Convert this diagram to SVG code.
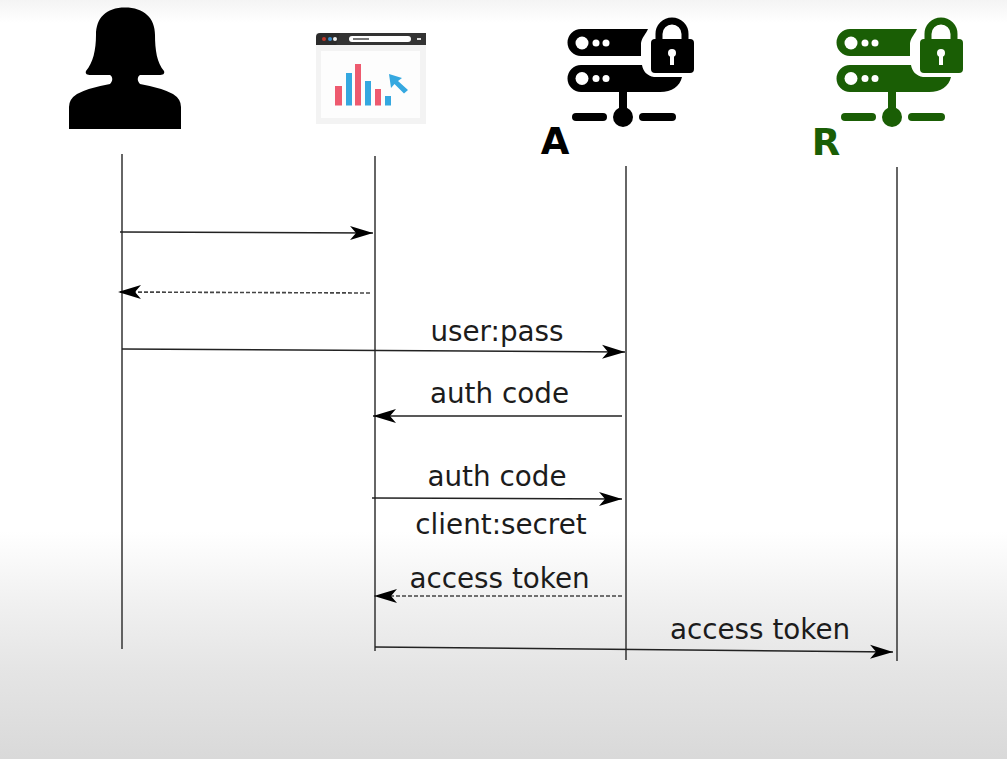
<svg xmlns="http://www.w3.org/2000/svg" xmlns:xlink="http://www.w3.org/1999/xlink" width="1007" height="759" viewBox="0 0 1007 759">
<style>
.life{stroke:#333;stroke-width:1.5;fill:none}
.msg{stroke:#222;stroke-width:1.6;fill:none}
.dash{stroke-dasharray:4 2;stroke:#444}
.lbl{font-family:"DejaVu Sans",Verdana,sans-serif;font-size:27.8px;fill:#1c1c1c;text-anchor:middle}
.tag{font-family:"DejaVu Sans",Verdana,sans-serif;font-size:37px;font-weight:bold}
.hole{fill:#fff}
</style>
<defs>
<linearGradient id="bg" x1="0" y1="0" x2="0" y2="1">
<stop offset="0" stop-color="#f4f4f4"/>
<stop offset="0.03" stop-color="#ffffff"/>
<stop offset="0.7" stop-color="#ffffff"/>
<stop offset="0.79" stop-color="#f1f1f1"/>
<stop offset="0.88" stop-color="#e5e5e5"/>
<stop offset="1" stop-color="#d9d9d9"/>
</linearGradient>
<marker id="end" markerUnits="userSpaceOnUse" markerWidth="25" markerHeight="16" refX="23" refY="7.500" orient="auto">
<path d="M0 0.500L23 7.500L0 14.500L6 7.500Z" fill="#000"/>
</marker>
<g id="server">
<path d="M581 29H648C646 34 642 37 641 43V56H581A13.500 13.500 0 0 1 581 29Z"/>
<path d="M581 65H642C643 71 647 76 654 77H682C680 86 672 92 660 92H581A13.500 13.500 0 0 1 581 65Z"/>
<circle class="hole" cx="582" cy="43" r="6.500"/><circle class="hole" cx="596" cy="43" r="3.500"/><circle class="hole" cx="606" cy="43" r="3.500"/>
<circle class="hole" cx="582" cy="78.500" r="6.500"/><circle class="hole" cx="596" cy="78.500" r="3.500"/><circle class="hole" cx="606" cy="78.500" r="3.500"/>
<path d="M659 40V34A13 13 0 0 1 685 34V40" fill="none" stroke="currentColor" stroke-width="7"/>
<rect x="651" y="39" width="43" height="34" rx="4"/>
<circle class="hole" cx="672" cy="53" r="4"/><rect class="hole" x="670" y="53" width="4" height="12"/>
<rect x="619" y="91" width="8" height="20"/>
<circle cx="623" cy="117" r="10"/>
<rect x="572" y="113" width="35" height="8" rx="4"/>
<rect x="639" y="113" width="37" height="8" rx="4"/>
</g>
</defs>
<rect id="background" width="1007" height="759" fill="url(#bg)"/>
<g id="user">
<path d="M125 7.500C106 7.500 96 18 96 35C96 50 93 63 86 71C85 74 87 75 91 75H110C113 77 113 81 110 84Q88 88 77 94Q69 99 69 107V129H181V107Q181 99 173 94Q162 88 140 84C137 81 137 77 140 75H159C163 75 165 74 164 71C157 63 155 50 155 35C155 18 144 7.500 125 7.500Z" fill="#000"/>
</g>
<g id="client">
<rect x="316" y="33" width="110" height="91" fill="#f3f3f3"/>
<rect x="321" y="51" width="99" height="67" fill="#fdfdfd"/>
<path d="M316 45V37Q316 33 320 33H422Q426 33 426 37V45Z" fill="#2b2b2b"/>
<path d="M340 33H426V45H336Z" fill="#333"/>
<circle cx="324" cy="39" r="2" fill="#c0392b"/><circle cx="330" cy="39" r="2" fill="#3a8fd0"/><circle cx="335" cy="39" r="2" fill="#eee"/>
<rect x="349" y="36" width="62" height="6" rx="3" fill="#fff"/>
<rect x="353" y="38" width="16" height="2" fill="#777"/>
<rect x="417" y="38" width="4" height="2" fill="#ddd"/>
<g fill="#ee5a6f"><rect x="335" y="86" width="7" height="19.500"/><rect x="355" y="64" width="6" height="41.500"/><rect x="375" y="89" width="6" height="16.500"/></g>
<g fill="#35a8e0"><rect x="346" y="73" width="6" height="32.500"/><rect x="365" y="81" width="6" height="24.500"/><rect x="385" y="96" width="6" height="9.500"/></g>
<path d="M389 74L402 78L398 81L408 90L404 93.500L394.500 84L391 88Z" fill="#35a8e0"/>
</g>
<g id="auth-server" fill="#000" color="#000">
<use xlink:href="#server"/>
<text class="tag" x="555" y="154" text-anchor="middle">A</text>
</g>
<g id="resource-server" fill="#1a5e05" color="#1a5e05">
<use xlink:href="#server" transform="translate(269 0)"/>
<text class="tag" x="826" y="155" text-anchor="middle">R</text>
</g>
<g id="connectors">
<path class="life" d="M122 154V649"/>
<path class="life" d="M375 156V651"/>
<path class="life" d="M626 166V660"/>
<path class="life" d="M897 167V661"/>
<path class="msg" d="M120 232L373 233" marker-end="url(#end)"/>
<path class="msg dash" d="M370 293L118 292" marker-end="url(#end)"/>
<path class="msg" d="M122 349L625 352" marker-end="url(#end)"/>
<path class="msg" d="M622 416H373" marker-end="url(#end)"/>
<path class="msg" d="M372 498L622 499" marker-end="url(#end)"/>
<path class="msg dash" d="M622 596H374" marker-end="url(#end)"/>
<path class="msg" d="M375 647L893 652" marker-end="url(#end)"/>
</g>
<g id="labels">
<text class="lbl" x="497" y="341">user:pass</text>
<text class="lbl" x="499.500" y="403">auth code</text>
<text class="lbl" x="497" y="486">auth code</text>
<text class="lbl" x="501" y="534">client:secret</text>
<text class="lbl" x="499.500" y="588">access token</text>
<text class="lbl" x="760" y="639">access token</text>
</g>
</svg>
